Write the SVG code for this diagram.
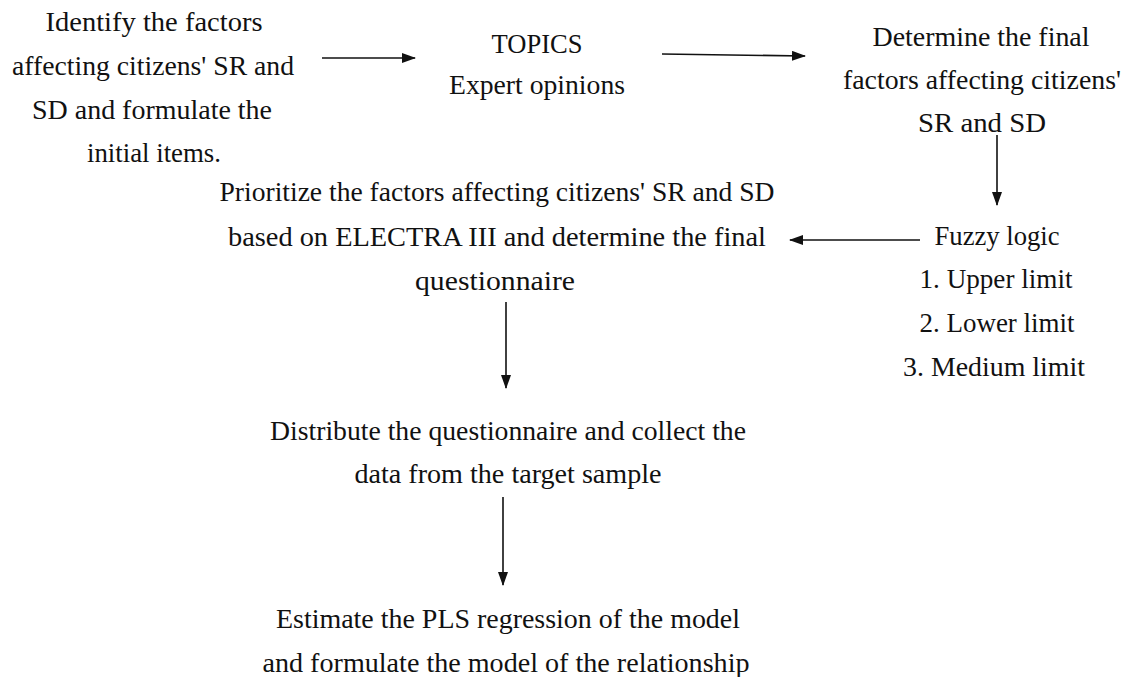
<svg xmlns="http://www.w3.org/2000/svg" width="1124" height="677" viewBox="0 0 1124 677">
<style>
text{font-family:"Liberation Serif","Times New Roman",serif;font-size:27px;fill:#111;text-anchor:middle}
.c line{stroke:#111;stroke-width:1.6;fill:none}
</style>
<defs>
<marker id="ah" viewBox="0 0 14 10" refX="13" refY="5" markerWidth="14" markerHeight="10" markerUnits="userSpaceOnUse" orient="auto">
<path d="M0,0 L14,5 L0,10 Z" fill="#111"/>
</marker>
</defs>
<rect width="1124" height="677" fill="#fff"/>
<g id="n1">
<text x="154" y="31" textLength="217" lengthAdjust="spacingAndGlyphs">Identify the factors</text>
<text x="153" y="75" textLength="282" lengthAdjust="spacingAndGlyphs">affecting citizens' SR and</text>
<text x="152" y="119" textLength="240" lengthAdjust="spacingAndGlyphs">SD and formulate the</text>
<text x="154" y="162" textLength="134" lengthAdjust="spacingAndGlyphs">initial items.</text>
</g>
<g id="n2">
<text x="537" y="53" textLength="91" lengthAdjust="spacingAndGlyphs">TOPICS</text>
<text x="537" y="94" textLength="176" lengthAdjust="spacingAndGlyphs">Expert opinions</text>
</g>
<g id="n3">
<text x="981" y="46" textLength="217" lengthAdjust="spacingAndGlyphs">Determine the final</text>
<text x="982" y="89" textLength="278" lengthAdjust="spacingAndGlyphs">factors affecting citizens'</text>
<text x="982" y="132" textLength="128" lengthAdjust="spacingAndGlyphs">SR and SD</text>
</g>
<g id="n4">
<text x="497" y="201" textLength="555" lengthAdjust="spacingAndGlyphs">Prioritize the factors affecting citizens' SR and SD</text>
<text x="497" y="246" textLength="538" lengthAdjust="spacingAndGlyphs">based on ELECTRA III and determine the final</text>
<text x="495" y="290" textLength="160" lengthAdjust="spacingAndGlyphs">questionnaire</text>
</g>
<g id="n5">
<text x="997" y="245" textLength="125" lengthAdjust="spacingAndGlyphs">Fuzzy logic</text>
<text x="996" y="288" textLength="153" lengthAdjust="spacingAndGlyphs">1. Upper limit</text>
<text x="997" y="332" textLength="155" lengthAdjust="spacingAndGlyphs">2. Lower limit</text>
<text x="994" y="376" textLength="182" lengthAdjust="spacingAndGlyphs">3. Medium limit</text>
</g>
<g id="n6">
<text x="508" y="440" textLength="476" lengthAdjust="spacingAndGlyphs">Distribute the questionnaire and collect the</text>
<text x="508" y="483" textLength="307" lengthAdjust="spacingAndGlyphs">data from the target sample</text>
</g>
<g id="n7">
<text x="508" y="628" textLength="464" lengthAdjust="spacingAndGlyphs">Estimate the PLS regression of the model</text>
<text x="506" y="672" textLength="487" lengthAdjust="spacingAndGlyphs">and formulate the model of the relationship</text>
</g>
<g class="c" id="connectors">
<line x1="322" y1="58" x2="415" y2="58" marker-end="url(#ah)"/>
<line x1="662" y1="54" x2="805" y2="56" marker-end="url(#ah)"/>
<line x1="997" y1="135" x2="997" y2="205" marker-end="url(#ah)"/>
<line x1="920" y1="240" x2="790" y2="240" marker-end="url(#ah)"/>
<line x1="506" y1="302" x2="506" y2="388" marker-end="url(#ah)"/>
<line x1="503" y1="497" x2="503" y2="585" marker-end="url(#ah)"/>
</g>
</svg>
